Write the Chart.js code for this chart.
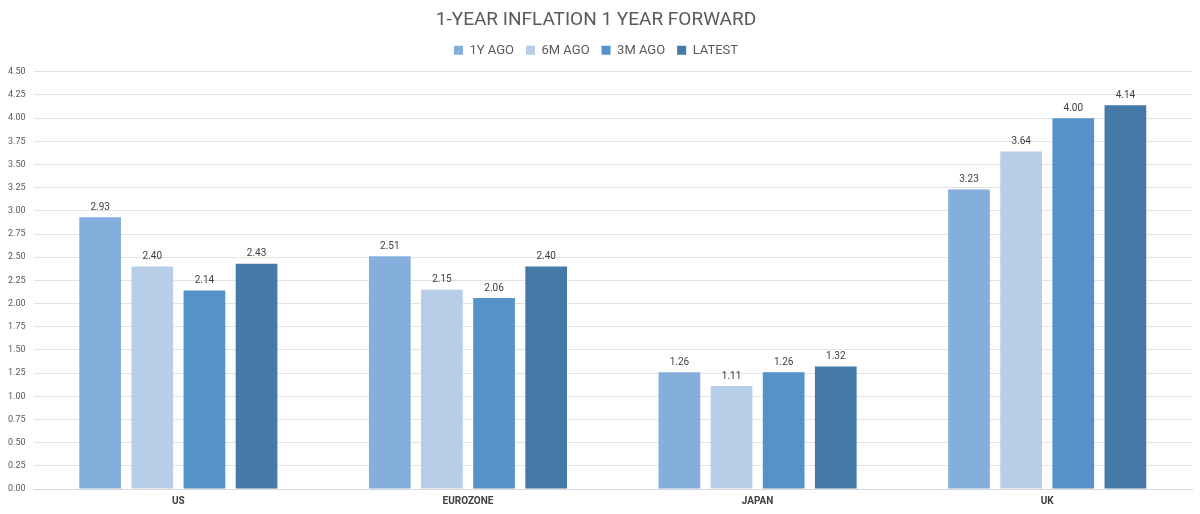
<!DOCTYPE html>
<html><head><meta charset="utf-8">
<script src="https://cdn.jsdelivr.net/npm/chart.js@4"></script>
<style>html,body{margin:0;padding:0;background:#fff}#wrap{width:1200px;height:514px}</style>
</head><body><div id="wrap"><canvas id="c" width="1200" height="514"></canvas></div>
<script>
const categories = ["US", "EUROZONE", "JAPAN", "UK"];
const seriesNames = ["1Y AGO", "6M AGO", "3M AGO", "LATEST"];
const oneYearAgo = [2.93, 2.51, 1.26, 3.23];
const sixMonthsAgo = [2.40, 2.15, 1.11, 3.64];
const threeMonthsAgo = [2.14, 2.06, 1.26, 4.00];
const latest = [2.43, 2.40, 1.32, 4.14];
const colors = ["#84AEDB", "#B8CDE8", "#5592C9", "#4479A8"];
const FONT = "Roboto, 'DejaVu Sans Condensed', sans-serif";

const labelPlugin = {
  id: 'barLabels',
  afterDatasetsDraw(chart) {
    const ctx = chart.ctx;
    ctx.save();
    ctx.font = "10px " + FONT;
    ctx.fillStyle = "#404040";
    ctx.textAlign = "center";
    ctx.textBaseline = "bottom";
    chart.data.datasets.forEach((ds, i) => {
      chart.getDatasetMeta(i).data.forEach((bar, j) => {
        ctx.fillText(ds.data[j].toFixed(2), bar.x, bar.y - 5);
      });
    });
    ctx.restore();
  }
};
const legendGap = {
  id: 'legendGap',
  beforeInit(chart) {
    if (!chart.legend) return;
    const f = chart.legend.fit;
    chart.legend.fit = function () { f.call(this); this.height += 5; };
  }
};

const allSeries = [oneYearAgo, sixMonthsAgo, threeMonthsAgo, latest];
new Chart(document.getElementById('c'), {
  type: 'bar',
  data: {
    labels: categories,
    datasets: allSeries.map((d, i) => ({
      label: seriesNames[i], data: d, backgroundColor: colors[i],
      barPercentage: 0.8, categoryPercentage: 0.72
    }))
  },
  options: {
    responsive: false, animation: false,
    layout: { padding: { left: 0, right: 8, top: 0, bottom: 1 } },
    plugins: {
      title: { display: true, text: "1-YEAR INFLATION 1 YEAR FORWARD", color: "#595959",
        font: { family: FONT, size: 19, weight: 'normal' }, padding: { top: 9, bottom: 0 } },
      legend: { labels: { color: "#595959", boxWidth: 9, boxHeight: 9, padding: 12,
        font: { family: FONT, size: 13 } } },
      tooltip: { enabled: false }
    },
    scales: {
      x: { grid: { display: false, drawTicks: false }, border: { color: "#d9d9d9" },
        ticks: { color: "#404040", font: { family: FONT, size: 10, weight: 'bold' }, padding: 6 } },
      y: { min: 0, max: 4.5, border: { display: false },
        grid: { color: "#e3e3e3", drawTicks: false },
        ticks: { stepSize: 0.25, color: "#595959", padding: 8,
          font: { family: FONT, size: 9 }, callback: v => v.toFixed(2) } }
    }
  },
  plugins: [legendGap, labelPlugin]
});
</script></body></html>
